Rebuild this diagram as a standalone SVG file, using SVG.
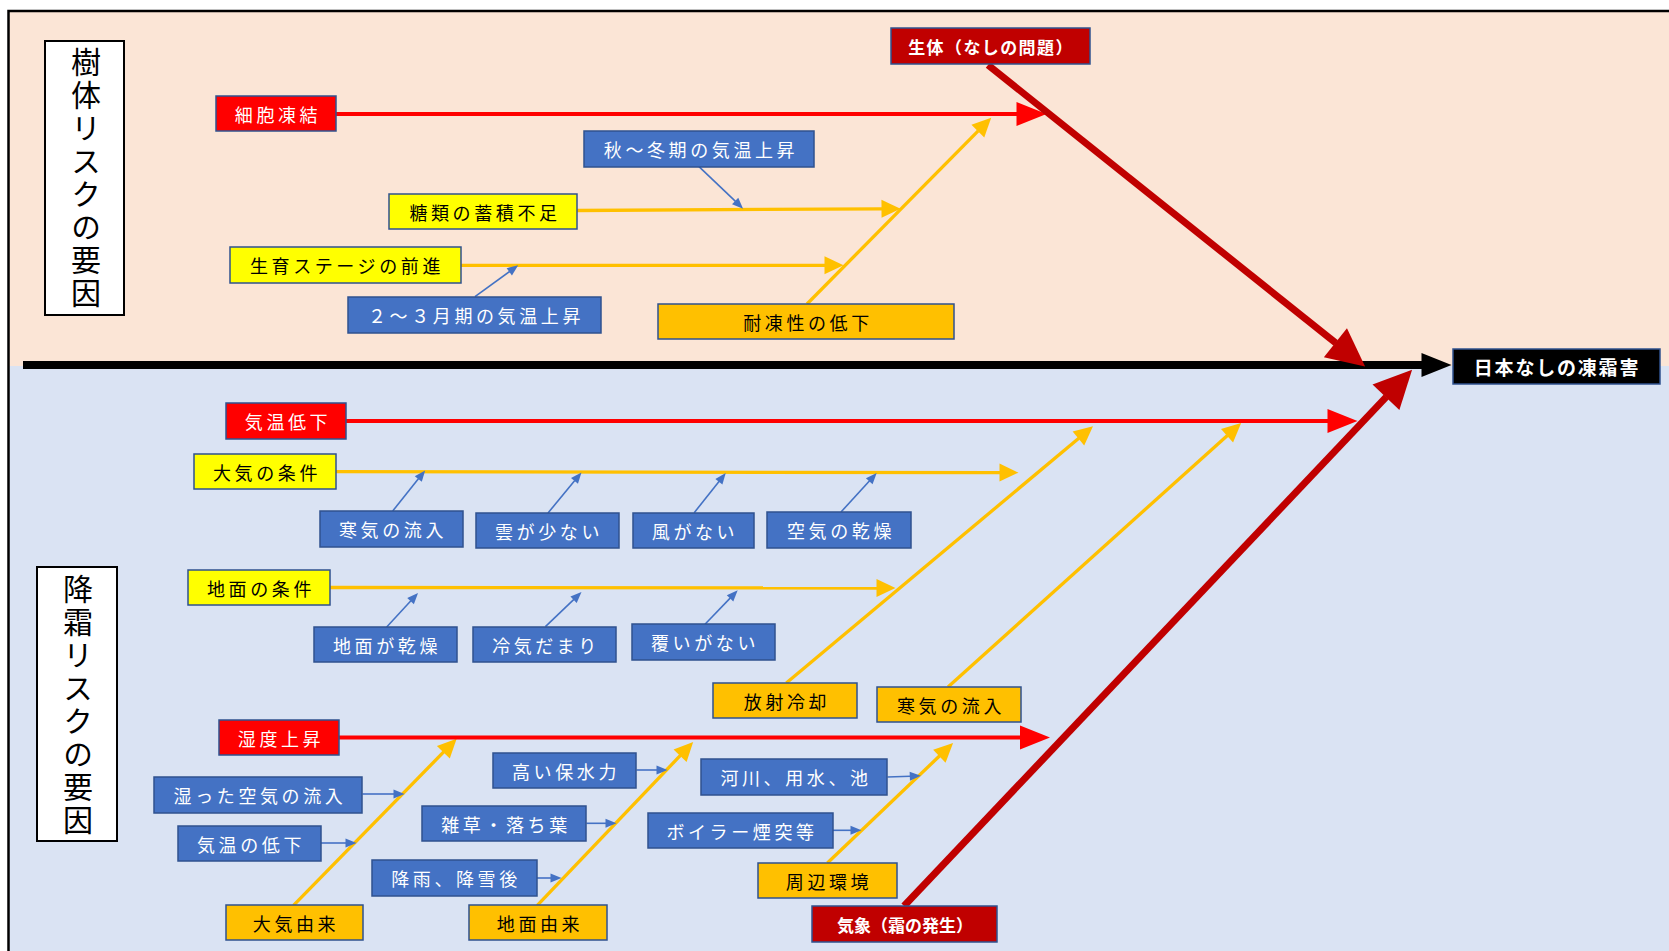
<svg xmlns="http://www.w3.org/2000/svg" width="1669" height="951" viewBox="0 0 1669 951">
  <style>
    .bx { stroke: #2F528F; stroke-width: 1.5; }
    .red { fill: #FF0000; }
    .yel { fill: #FFFF00; }
    .amb { fill: #FFC000; }
    .blu { fill: #4472C4; }
    .drd { fill: #C00000; }
    .blk { fill: #000000; }
    .ttl { fill: #FFFFFF; stroke: #000000; stroke-width: 2; }
    .t { font-family: "Noto Sans CJK JP", "Noto Sans", sans-serif; font-size: 18px; letter-spacing: 3.6px; text-anchor: middle; dominant-baseline: central; }
    .w { fill: #FFFFFF; }
    .k { fill: #000000; }
    .bd { font-weight: bold; letter-spacing: 1.4px; font-size: 17px; }
    .vt { font-family: "Noto Sans CJK JP", "Noto Sans", sans-serif; font-size: 30px; letter-spacing: 3px; writing-mode: vertical-rl; fill: #000000; }
    .lr { stroke: #FF0000; stroke-width: 4; fill: none; }
    .ly { stroke: #FFC000; stroke-width: 3.3; fill: none; }
    .lb { stroke: #4472C4; stroke-width: 1.6; fill: none; }
    .ld { stroke: #C00000; stroke-width: 7; fill: none; }
    .lk { stroke: #000000; stroke-width: 8; fill: none; }
  </style>
  <defs>
    <marker id="mRed" markerUnits="userSpaceOnUse" markerWidth="31" markerHeight="24" refX="0.5" refY="12" orient="auto" overflow="visible">
      <path d="M0,0 L30,12 L0,24 z" fill="#FF0000"/>
    </marker>
    <marker id="mYel" markerUnits="userSpaceOnUse" markerWidth="20" markerHeight="18" refX="0.5" refY="9" orient="auto" overflow="visible">
      <path d="M0,0 L19,9 L0,18 z" fill="#FFC000"/>
    </marker>
    <marker id="mBlu" markerUnits="userSpaceOnUse" markerWidth="12" markerHeight="9" refX="0.5" refY="4.5" orient="auto" overflow="visible">
      <path d="M0,0 L11,4.5 L0,9 z" fill="#4472C4"/>
    </marker>
    <marker id="mDrd" markerUnits="userSpaceOnUse" markerWidth="39" markerHeight="37" refX="0.5" refY="18.5" orient="auto" overflow="visible">
      <path d="M0,0 L38,18.5 L0,37 z" fill="#C00000"/>
    </marker>
    <marker id="mBlk" markerUnits="userSpaceOnUse" markerWidth="31" markerHeight="24" refX="0.5" refY="12" orient="auto" overflow="visible">
      <path d="M0,0 L30,12 L0,24 z" fill="#000000"/>
    </marker>
  </defs>

  <!-- page and the two risk panels -->
  <rect x="0" y="0" width="1669" height="951" fill="#FFFFFF"/>
  <rect x="8.5" y="11" width="1670" height="355" fill="#FBE5D6"/>
  <rect x="8.5" y="366" width="1670" height="600" fill="#DAE3F3"/>
  <rect x="8.5" y="11" width="1680" height="960" fill="none" stroke="#000000" stroke-width="2.5"/>

  <!-- connectors -->
  <g id="connectors">
    <!-- yellow sub-branches -->
    <line class="ly" x1="577" y1="210.5" x2="882" y2="208.8" marker-end="url(#mYel)"/>
    <line class="ly" x1="461" y1="265.3" x2="825" y2="265.3" marker-end="url(#mYel)"/>
    <line class="ly" x1="807" y1="304" x2="978.2" y2="130.8" marker-end="url(#mYel)"/>
    <line class="ly" x1="336" y1="471.7" x2="1000" y2="472.6" marker-end="url(#mYel)"/>
    <line class="ly" x1="330" y1="587.5" x2="877" y2="588" marker-end="url(#mYel)"/>
    <line class="ly" x1="786.3" y1="683" x2="1078.8" y2="438.2" marker-end="url(#mYel)"/>
    <line class="ly" x1="948" y1="687" x2="1227.4" y2="435.4" marker-end="url(#mYel)"/>
    <line class="ly" x1="293.5" y1="905.3" x2="443.7" y2="751.9" marker-end="url(#mYel)"/>
    <line class="ly" x1="537.3" y1="905.3" x2="680.4" y2="755.4" marker-end="url(#mYel)"/>
    <line class="ly" x1="827.4" y1="863" x2="939.7" y2="755.8" marker-end="url(#mYel)"/>

    <!-- red main branches -->
    <line class="lr" x1="336" y1="114" x2="1017" y2="114" marker-end="url(#mRed)"/>
    <line class="lr" x1="346" y1="421" x2="1328" y2="421" marker-end="url(#mRed)"/>
    <line class="lr" x1="339" y1="737.5" x2="1020.5" y2="737.5" marker-end="url(#mRed)"/>

    <!-- blue contributing causes -->
    <line class="lb" x1="699" y1="166.7" x2="735.5" y2="201.4" marker-end="url(#mBlu)"/>
    <line class="lb" x1="475" y1="296.7" x2="509.7" y2="271.5" marker-end="url(#mBlu)"/>
    <line class="lb" x1="392.7" y1="511" x2="418.6" y2="478.6" marker-end="url(#mBlu)"/>
    <line class="lb" x1="548" y1="513" x2="574.8" y2="480.5" marker-end="url(#mBlu)"/>
    <line class="lb" x1="694.2" y1="512.7" x2="719.2" y2="481.3" marker-end="url(#mBlu)"/>
    <line class="lb" x1="841" y1="512" x2="869.6" y2="480.8" marker-end="url(#mBlu)"/>
    <line class="lb" x1="386.7" y1="627" x2="410.9" y2="600.8" marker-end="url(#mBlu)"/>
    <line class="lb" x1="545.4" y1="626.7" x2="573.9" y2="599.3" marker-end="url(#mBlu)"/>
    <line class="lb" x1="705" y1="624.3" x2="730.4" y2="597.9" marker-end="url(#mBlu)"/>
    <line class="lb" x1="362.4" y1="794" x2="394" y2="794" marker-end="url(#mBlu)"/>
    <line class="lb" x1="320.6" y1="843" x2="346" y2="843" marker-end="url(#mBlu)"/>
    <line class="lb" x1="537" y1="878" x2="551" y2="878" marker-end="url(#mBlu)"/>
    <line class="lb" x1="636.4" y1="770" x2="657" y2="770" marker-end="url(#mBlu)"/>
    <line class="lb" x1="586.4" y1="823.3" x2="606" y2="823.3" marker-end="url(#mBlu)"/>
    <line class="lb" x1="887.4" y1="777" x2="910.3" y2="776.2" marker-end="url(#mBlu)"/>
    <line class="lb" x1="833" y1="830.3" x2="851" y2="830.3" marker-end="url(#mBlu)"/>

    <!-- spine -->
    <line class="lk" x1="23" y1="365" x2="1422" y2="365" marker-end="url(#mBlk)"/>

    <!-- dark red category bones -->
    <line class="ld" x1="988" y1="65" x2="1335.8" y2="343" marker-end="url(#mDrd)"/>
    <line class="ld" x1="904" y1="906" x2="1386.3" y2="396.9" marker-end="url(#mDrd)"/>
  </g>

  <!-- panel titles -->
  <g id="title-tree">
    <rect class="ttl" x="45" y="41" width="79" height="274"/>
    <text class="vt" x="86" y="47">樹体リスクの要因</text>
  </g>
  <g id="title-frost">
    <rect class="ttl" x="37" y="567" width="80" height="274"/>
    <text class="vt" x="78" y="574">降霜リスクの要因</text>
  </g>

  <!-- effect -->
  <g id="effect">
    <rect class="bx blk" x="1453" y="349" width="207" height="35"/>
    <text class="t w bd" x="1557" y="366.5" style="font-size:19px;letter-spacing:1.8px">日本なしの凍霜害</text>
  </g>

  <!-- tree-side causes -->
  <g id="cat-tree">
    <rect class="bx drd" x="891" y="28" width="199" height="36"/>
    <text class="t w bd" x="991" y="46">生体（なしの問題）</text>
  </g>
  <g id="cell-freeze">
    <rect class="bx red" x="216" y="96" width="120" height="35"/>
    <text class="t w" x="278" y="113.5">細胞凍結</text>
  </g>
  <g id="sugar">
    <rect class="bx yel" x="389" y="194" width="188" height="35"/>
    <text class="t k" x="485" y="211.5">糖類の蓄積不足</text>
  </g>
  <g id="growth-stage">
    <rect class="bx yel" x="230" y="247" width="231" height="36"/>
    <text class="t k" x="347" y="265">生育ステージの前進</text>
  </g>
  <g id="temp-feb-mar">
    <rect class="bx blu" x="348" y="297" width="253" height="36"/>
    <text class="t w" x="476" y="315">２～３月期の気温上昇</text>
  </g>
  <g id="temp-autumn">
    <rect class="bx blu" x="584" y="131" width="230" height="36"/>
    <text class="t w" x="701" y="149">秋～冬期の気温上昇</text>
  </g>
  <g id="hardiness">
    <rect class="bx amb" x="658" y="304" width="296" height="35"/>
    <text class="t k" x="808" y="321.5">耐凍性の低下</text>
  </g>

  <!-- frost-side causes -->
  <g id="cat-weather">
    <rect class="bx drd" x="812" y="906" width="185" height="36"/>
    <text class="t w bd" x="905" y="924" style="letter-spacing:0px">気象（霜の発生）</text>
  </g>
  <g id="temp-drop">
    <rect class="bx red" x="226" y="403" width="120" height="36"/>
    <text class="t w" x="288" y="421">気温低下</text>
  </g>
  <g id="atmosphere">
    <rect class="bx yel" x="194" y="454" width="142" height="35"/>
    <text class="t k" x="267" y="471.5">大気の条件</text>
  </g>
  <g id="cold-inflow-a">
    <rect class="bx blu" x="320" y="511" width="143" height="36"/>
    <text class="t w" x="393" y="529">寒気の流入</text>
  </g>
  <g id="few-clouds">
    <rect class="bx blu" x="476" y="513" width="143" height="35"/>
    <text class="t w" x="549" y="530.5">雲が少ない</text>
  </g>
  <g id="no-wind">
    <rect class="bx blu" x="633" y="513" width="121" height="35"/>
    <text class="t w" x="695" y="530.5">風がない</text>
  </g>
  <g id="dry-air">
    <rect class="bx blu" x="767" y="512" width="144" height="36"/>
    <text class="t w" x="841" y="530">空気の乾燥</text>
  </g>
  <g id="ground">
    <rect class="bx yel" x="188" y="570" width="142" height="35"/>
    <text class="t k" x="261" y="587.5">地面の条件</text>
  </g>
  <g id="dry-ground">
    <rect class="bx blu" x="314" y="627" width="143" height="35"/>
    <text class="t w" x="387" y="644.5">地面が乾燥</text>
  </g>
  <g id="cold-pool">
    <rect class="bx blu" x="473" y="627" width="143" height="35"/>
    <text class="t w" x="546" y="644.5">冷気だまり</text>
  </g>
  <g id="no-cover">
    <rect class="bx blu" x="632" y="624" width="143" height="36"/>
    <text class="t w" x="705" y="642">覆いがない</text>
  </g>
  <g id="radiative">
    <rect class="bx amb" x="713" y="683" width="144" height="35"/>
    <text class="t k" x="787" y="700.5">放射冷却</text>
  </g>
  <g id="cold-inflow-b">
    <rect class="bx amb" x="877" y="687" width="144" height="35"/>
    <text class="t k" x="951" y="704.5">寒気の流入</text>
  </g>
  <g id="humidity">
    <rect class="bx red" x="219" y="720" width="120" height="35"/>
    <text class="t w" x="281" y="737.5">湿度上昇</text>
  </g>
  <g id="moist-air">
    <rect class="bx blu" x="154" y="777" width="208" height="36"/>
    <text class="t w" x="260" y="795">湿った空気の流入</text>
  </g>
  <g id="temp-fall">
    <rect class="bx blu" x="178" y="826" width="143" height="35"/>
    <text class="t w" x="251" y="843.5">気温の低下</text>
  </g>
  <g id="water-holding">
    <rect class="bx blu" x="493" y="753" width="143" height="35"/>
    <text class="t w" x="566" y="770.5">高い保水力</text>
  </g>
  <g id="weeds">
    <rect class="bx blu" x="422" y="806" width="164" height="35"/>
    <text class="t w" x="506" y="823.5">雑草・落ち葉</text>
  </g>
  <g id="after-rain">
    <rect class="bx blu" x="372" y="860" width="165" height="36"/>
    <text class="t w" x="456" y="878">降雨、降雪後</text>
  </g>
  <g id="from-air">
    <rect class="bx amb" x="226" y="905" width="137" height="35"/>
    <text class="t k" x="296" y="922.5">大気由来</text>
  </g>
  <g id="from-ground">
    <rect class="bx amb" x="469" y="905" width="138" height="35"/>
    <text class="t k" x="540" y="922.5">地面由来</text>
  </g>
  <g id="water-bodies">
    <rect class="bx blu" x="701" y="759" width="186" height="36"/>
    <text class="t w" x="796" y="777">河川、用水、池</text>
  </g>
  <g id="chimney">
    <rect class="bx blu" x="648" y="813" width="185" height="35"/>
    <text class="t w" x="742" y="830.5">ボイラー煙突等</text>
  </g>
  <g id="surroundings">
    <rect class="bx amb" x="758" y="863" width="139" height="35"/>
    <text class="t k" x="829" y="880.5">周辺環境</text>
  </g>
</svg>
